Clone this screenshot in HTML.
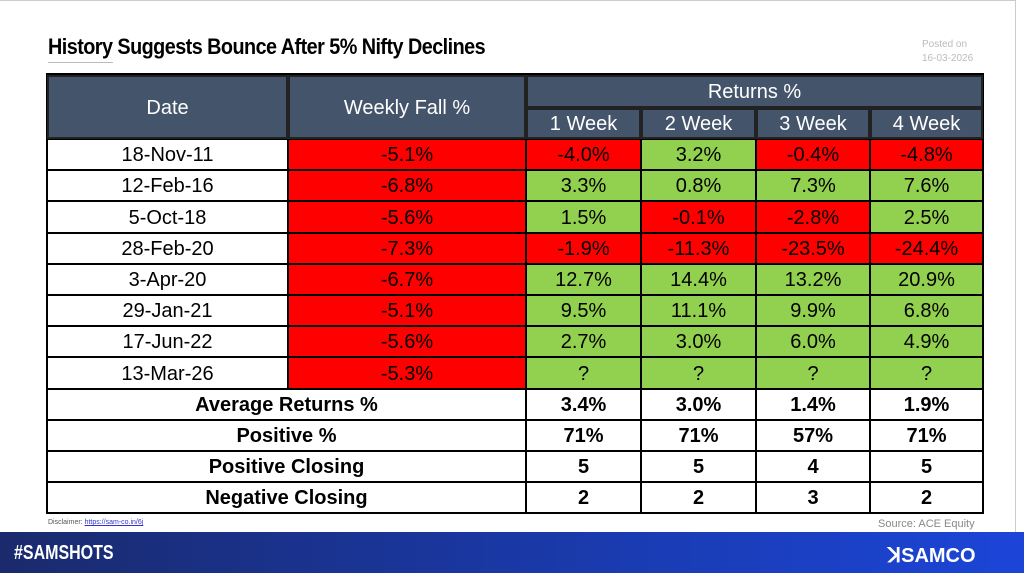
<!DOCTYPE html>
<html><head><meta charset="utf-8"><style>
body{margin:0;width:1024px;height:573px;overflow:hidden;background:#fff;font-family:"Liberation Sans",sans-serif;position:relative}
.c{position:absolute;box-sizing:border-box;display:flex;align-items:center;justify-content:center;font-size:20px;color:#000;border:1px solid #000;padding-top:2px}
.h{background:#44546a;color:#fff;border:2px solid #222}
.r{background:#ff0000}.g{background:#92d050}.w{background:#fff}
.b{font-weight:bold}
</style></head><body>
<div style="position:absolute;left:0;top:0;width:1016px;height:1px;background:#ccc"></div>
<div style="position:absolute;left:1015px;top:0;width:1px;height:532px;background:#ccc"></div>
<div style="position:absolute;left:48px;top:34px;font-size:22px;font-weight:bold;letter-spacing:-0.6px;transform:scaleX(0.9);transform-origin:left">History Suggests Bounce After 5% Nifty Declines</div>
<div style="position:absolute;left:48px;top:62px;width:65px;height:1px;background:#bbb"></div>
<div style="position:absolute;left:922px;top:38px;font-size:10px;color:#bbb;line-height:14px">Posted on<br>16-03-2026</div>
<div style="position:absolute;left:46px;top:73px;width:938px;height:441px;border:2px solid #000;box-sizing:border-box"></div>
<div id="t"></div>
<div style="position:absolute;left:48px;top:519px;font-size:7px;color:#555">Disclaimer: <span style="color:#33c;text-decoration:underline">https://sam-co.in/6j</span></div>
<div style="position:absolute;left:878px;top:518px;font-size:11px;color:#888">Source: ACE Equity</div>
<div style="position:absolute;left:0;top:532px;width:1024px;height:41px;background:linear-gradient(90deg,#1a2a6c,#1a3bb0 60%,#1c45d8)"></div>
<div style="position:absolute;left:14px;top:542px;font-size:20px;font-weight:bold;color:#fff;transform:scaleX(0.8);transform-origin:left">#SAMSHOTS</div>
<div style="position:absolute;left:888px;top:543px;font-size:20px;font-weight:bold;color:#fff">ꓘSAMCO</div>
<script>
var X=[47,288,526,641,756,870,983];
var H='';
function cell(x1,x2,y1,y2,cls,t){H+='<div class="c '+cls+'" style="left:'+x1+'px;top:'+y1+'px;width:'+(x2-x1)+'px;height:'+(y2-y1)+'px">'+t+'</div>';}
cell(X[0],X[1],75,139,'h','Date');cell(X[1],X[2],75,139,'h','Weekly Fall %');
cell(X[2],X[6],75,108,'h','Returns %');
['1 Week','2 Week','3 Week','4 Week'].forEach(function(s,i){cell(X[2+i],X[3+i],108,139,'h',s)});
var D=[['18-Nov-11','-5.1%','-4.0%','3.2%','-0.4%','-4.8%'],['12-Feb-16','-6.8%','3.3%','0.8%','7.3%','7.6%'],['5-Oct-18','-5.6%','1.5%','-0.1%','-2.8%','2.5%'],['28-Feb-20','-7.3%','-1.9%','-11.3%','-23.5%','-24.4%'],['3-Apr-20','-6.7%','12.7%','14.4%','13.2%','20.9%'],['29-Jan-21','-5.1%','9.5%','11.1%','9.9%','6.8%'],['17-Jun-22','-5.6%','2.7%','3.0%','6.0%','4.9%'],['13-Mar-26','-5.3%','?','?','?','?']];
var y=139,rh=31.2;
D.forEach(function(r){var y2=Math.round(y+rh);var yy=Math.round(y);
cell(X[0],X[1],yy,y2,'w',r[0]);cell(X[1],X[2],yy,y2,'r',r[1]);
for(var i=2;i<6;i++){cell(X[i],X[i+1],yy,y2,(r[i][0]=='-'?'r':'g'),r[i]);}y+=rh;});
var S=[['Average Returns %','3.4%','3.0%','1.4%','1.9%'],['Positive %','71%','71%','57%','71%'],['Positive Closing','5','5','4','5'],['Negative Closing','2','2','3','2']];
S.forEach(function(r){var y2=Math.round(y+rh);var yy=Math.round(y);
cell(X[0],X[2],yy,y2,'w b',r[0]);for(var i=1;i<5;i++)cell(X[i+1],X[i+2],yy,y2,'w b',r[i]);y+=rh;});
document.getElementById('t').innerHTML=H;
</script>
</body></html>
